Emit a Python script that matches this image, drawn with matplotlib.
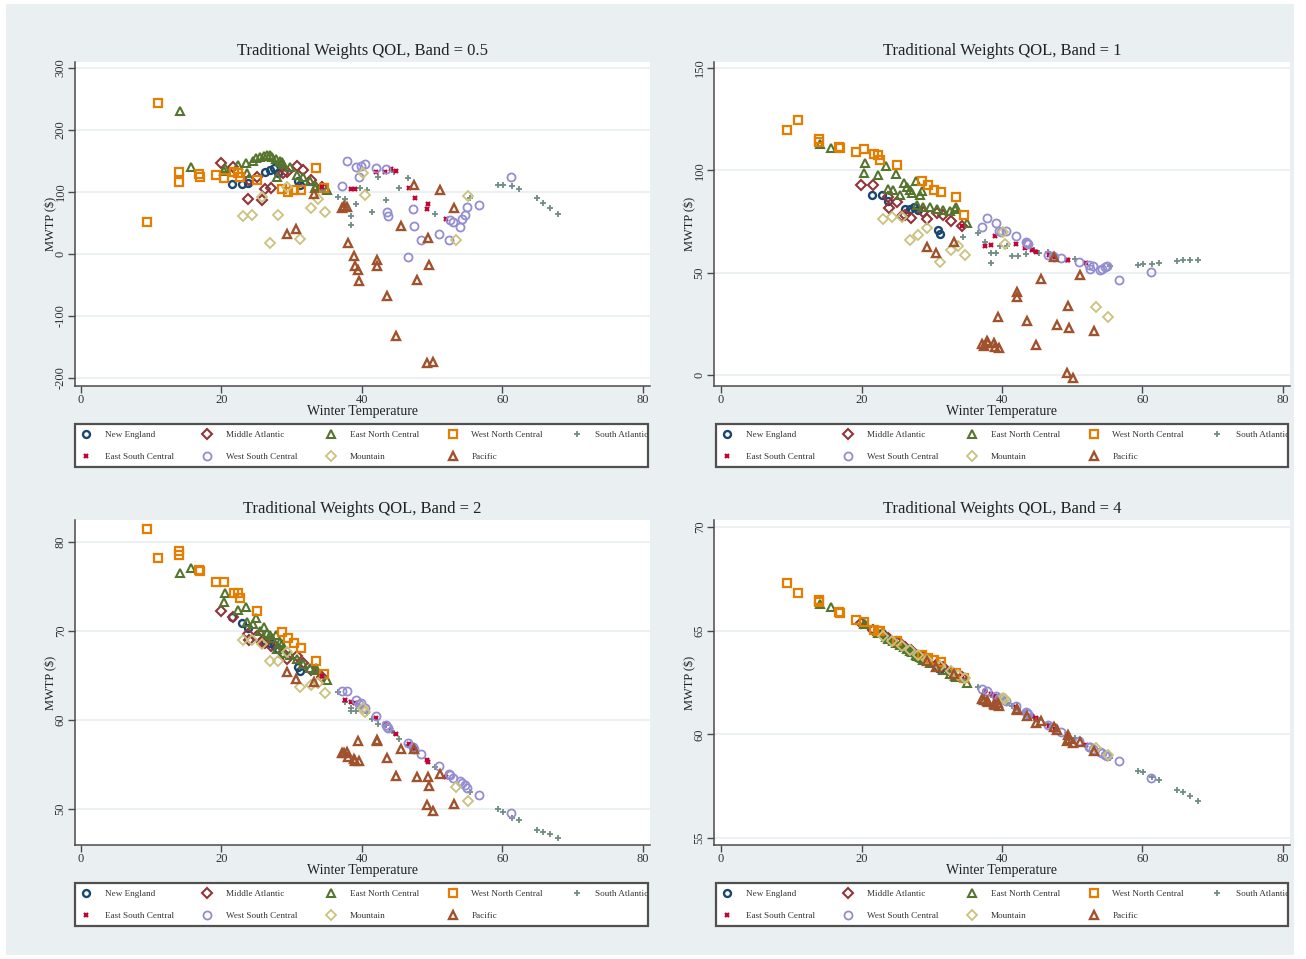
import matplotlib.pyplot as plt
from matplotlib.patches import Rectangle

plt.rcParams['font.family'] = ['Liberation Serif', 'DejaVu Serif']

# winter temperature of each city, grouped by census division,
# and MWTP ($) for each bandwidth (0.5, 1, 2, 4)
ne_temp = [21.5, 22.9, 23.8, 26.2, 26.9, 27.5, 28.0, 30.9, 31.2]
ne_b05 = [113, 113, 114, 133, 135, 138, 130, 118, 112]
ne_b1 = [87.8, 87.8, 85.0, 81.3, 81.3, 82.1, 80.5, 70.7, 68.8]
ne_b2 = [71.6, 70.9, 70.3, 68.9, 68.6, 68.4, 68.0, 66.0, 65.5]
ne_b4 = [65.1, 64.9, 64.65, 64.15, 64.0, 63.9, 63.8, 63.2, 63.15]

ma_temp = [19.9, 21.6, 23.8, 23.9, 25.0, 25.7, 26.2, 27.1, 28.8, 29.3, 30.7, 31.6, 32.8, 34.3]
ma_b05 = [147, 140, 88, 120, 124, 87, 105, 107, 130, 132, 142, 135, 120, 108]
ma_b1 = [92.7, 92.7, 87.0, 81.8, 84.5, 77.6, 78.0, 76.9, 79.7, 76.4, 78.9, 78.0, 75.3, 72.7]
ma_b2 = [72.2, 71.6, 69.7, 69.0, 69.4, 68.8, 68.6, 68.3, 67.5, 66.8, 67.2, 66.4, 65.6, 64.8]
ma_b4 = [65.35, 65.05, 64.65, 64.6, 64.45, 64.3, 64.2, 64.05, 63.75, 63.65, 63.4, 63.25, 63.0, 62.75]

enc_temp = [14.1, 15.6, 20.4, 20.5, 22.4, 23.5, 23.7, 24.5, 24.9, 25.5, 26.1, 26.5, 26.9,
            27.2, 27.7, 27.9, 28.3, 28.6, 28.8, 29.7, 30.7, 31.6, 32.6, 33.3, 33.5, 35.0]
enc_b05 = [231, 141, 134, 138, 144, 146, 130, 150, 155, 157, 158, 160, 159,
           156, 153, 124, 150, 148, 145, 140, 128, 124, 118, 106, 110, 104]
enc_b1 = [113, 111, 98.7, 103.6, 97.6, 102, 91, 90.6, 98.4, 88, 93.8, 92, 90.5,
          89, 94.6, 82.9, 88, 90, 82.1, 82.1, 81.3, 80.5, 80.1, 81.3, 82, 74.3]
enc_b2 = [76.5, 77.1, 73.3, 74.3, 72.4, 72.7, 71.0, 70.8, 71.5, 70.0, 70.5, 69.8, 69.5,
          69.2, 69.6, 68.0, 68.8, 68.5, 67.5, 67.3, 66.8, 66.3, 65.8, 65.6, 65.8, 64.5]
enc_b4 = [66.3, 66.15, 65.3, 65.3, 64.9, 64.7, 64.6, 64.5, 64.4, 64.3, 64.2, 64.1, 64.0,
          63.95, 63.85, 63.8, 63.75, 63.7, 63.6, 63.45, 63.3, 63.1, 62.9, 62.8, 62.75, 62.5]

wnc_temp = [9.4, 11.0, 13.9, 14.0, 16.8, 16.9, 19.2, 20.3, 21.8, 22.3, 22.6, 25.0,
            28.6, 29.5, 30.3, 31.3, 33.4, 34.6]
wnc_b05 = [51, 244, 133, 116, 129, 125, 127, 122, 133, 130, 125, 120,
           105, 100, 103, 104, 138, 106]
wnc_b1 = [119.8, 124.4, 115.5, 114, 111.5, 110.8, 109, 110.6, 107.8, 107.3, 105, 102.4,
          94.6, 92.7, 90.6, 89.4, 86.7, 78]
wnc_b2 = [81.5, 78.2, 79.0, 78.5, 76.9, 76.7, 75.5, 75.5, 74.3, 74.3, 73.7, 72.3,
          69.9, 69.2, 68.6, 68.1, 66.6, 65.2]
wnc_b4 = [67.3, 66.8, 66.5, 66.4, 65.9, 65.85, 65.5, 65.4, 65.05, 65.0, 64.97, 64.5,
          63.85, 63.7, 63.6, 63.5, 62.95, 62.7]

sa_temp = [34.5, 36.6, 37.6, 38.4, 38.5, 39.1, 39.7, 40.7, 41.4, 42.3, 43.4, 44.5,
           45.2, 46.5, 50.4, 55.4, 59.4, 60.1, 61.3, 62.4, 64.9, 65.7, 66.7, 67.9]
sa_b05 = [104, 92, 89, 47, 62, 81, 106, 103, 68, 125, 87, 132,
          106, 122, 64, 91, 111, 111, 109, 105, 90, 83, 74, 64]
sa_b1 = [67.5, 69.4, 65, 54.5, 59.4, 59.7, 63, 63, 58, 58, 59, 61,
         59.7, 60, 56.5, 53.2, 53.7, 54, 54.1, 54.5, 55.8, 56, 56.1, 56.1]
sa_b2 = [64.8, 63.2, 62.0, 61.0, 61.3, 61.0, 61.5, 60.8, 60.1, 59.6, 59.4, 58.5,
         57.9, 57.2, 54.7, 51.9, 50.0, 49.7, 49.0, 48.8, 47.7, 47.4, 47.2, 46.8]
sa_b4 = [62.6, 62.3, 62.1, 61.9, 61.9, 61.8, 61.7, 61.5, 61.35, 61.2, 61.0, 60.8,
         60.7, 60.5, 59.8, 58.85, 58.25, 58.2, 57.95, 57.8, 57.3, 57.2, 57.0, 56.8]

esc_temp = [34.3, 37.6, 38.5, 39.0, 42.0, 43.3, 44.2, 44.8, 46.7, 47.5, 49.2, 49.4, 52.0]
esc_b05 = [108, 77, 105, 105, 132, 132, 137, 134, 106, 90, 73, 81, 56]
esc_b1 = [73, 63, 63.4, 67.8, 64.2, 61.8, 61, 60.1, 58.5, 57.5, 56.1, 56, 54.5]
esc_b2 = [65.0, 62.3, 62.0, 61.9, 60.2, 59.6, 58.9, 58.4, 57.3, 56.8, 55.5, 55.3, 53.6]
esc_b4 = [62.8, 62.1, 61.95, 61.85, 61.3, 61.05, 60.9, 60.8, 60.4, 60.25, 60.0, 59.95, 59.5]

wsc_temp = [37.2, 37.9, 39.1, 39.6, 39.8, 40.5, 42.0, 43.4, 43.5, 43.7, 46.6, 47.2,
            47.4, 48.4, 50.9, 52.4, 52.5, 53.0, 53.9, 54.2, 54.7, 55.0, 56.6, 61.2]
wsc_b05 = [109, 150, 141, 124, 142, 145, 138, 137, 67, 61, -5, 73,
           45, 23, 33, 23, 55, 52, 44, 56, 63, 76, 79, 125]
wsc_b1 = [72.3, 76.9, 74.3, 70.4, 69.9, 70.4, 67.8, 65, 64.5, 64.2, 58.5, 58,
          57.5, 56.9, 55, 53.7, 52, 53, 51.2, 52, 52.8, 53, 46.3, 50.4]
wsc_b2 = [63.3, 63.3, 62.3, 61.8, 61.9, 61.4, 60.4, 59.4, 59.2, 59.1, 57.4, 57.0,
          56.8, 56.2, 54.8, 53.9, 53.8, 53.5, 53.1, 52.9, 52.7, 52.4, 51.6, 49.5]
wsc_b4 = [62.2, 62.1, 61.85, 61.75, 61.7, 61.6, 61.35, 61.1, 61.05, 61.0, 60.45, 60.35,
          60.3, 60.1, 59.7, 59.4, 59.4, 59.3, 59.15, 59.1, 59.0, 58.95, 58.7, 57.9]

mtn_temp = [23.1, 24.4, 25.8, 26.9, 28.1, 29.3, 31.2, 32.8, 33.7, 34.8, 40.1, 40.4, 53.4, 55.1]
mtn_b05 = [62, 63, 92, 18, 63, 108, 24, 75, 89, 67, 130, 95, 23, 94]
mtn_b1 = [76.4, 77.2, 77.2, 65.9, 68.6, 71.6, 55.0, 61, 63.1, 58.5, 70, 64, 33.0, 28.1]
mtn_b2 = [69.0, 69.0, 68.5, 66.6, 66.6, 67.6, 63.7, 63.9, 64.2, 63.0, 61.4, 60.9, 52.5, 50.9]
mtn_b4 = [64.75, 64.5, 64.25, 64.05, 63.85, 63.6, 63.3, 63.05, 62.85, 62.7, 61.75, 61.7, 59.35, 59.0]

pac_temp = [29.3, 30.6, 33.1, 37.1, 37.4, 37.9, 38.0, 38.9, 39.0, 39.5, 39.6, 42.1,
            42.2, 43.5, 44.8, 45.6, 47.4, 47.9, 49.4, 49.6, 49.2, 50.1, 51.1, 53.1]
pac_b05 = [32, 40, 97, 75, 77, 76, 17, -4, -19, -26, -44, -9,
           -19, -67, -133, 45, 111, -42, 26, -18, -175, -174, 104, 75]
pac_b1 = [62.3, 59.4, 65, 15.1, 14, 16.7, 15.5, 15.8, 13.8, 28.5, 13, 40.6,
          37.9, 26.5, 14.6, 46.8, 57.7, 24.4, 33.7, 23.1, 1.1, -1.3, 48.8, 21.5]
pac_b2 = [65.4, 64.6, 64.3, 56.3, 56.3, 56.4, 55.9, 55.6, 55.4, 57.6, 55.4, 57.8,
          57.6, 55.7, 53.7, 56.8, 56.7, 53.6, 53.6, 52.6, 50.4, 49.8, 53.9, 50.6]
pac_b4 = [63.55, 63.25, 62.9, 61.7, 61.65, 61.6, 61.55, 61.45, 61.4, 61.5, 61.35, 61.2,
          61.15, 60.9, 60.55, 60.65, 60.35, 60.2, 59.95, 59.75, 59.7, 59.6, 59.65, 59.2]

bands = ["0.5", "1", "2", "4"]
yticks = [[-200, -100, 0, 100, 200, 300], [0, 50, 100, 150], [50, 60, 70, 80], [55, 60, 65, 70]]
ylims = [(-212.9, 309.7), (-5.4, 152.9), (45.96, 82.47), (54.66, 70.34)]

# name, temperature, values per band, marker, color, size, edge width, hollow
divisions = [
    ("New England", ne_temp, [ne_b05, ne_b1, ne_b2, ne_b4], 'o', '#1a476f', 5.0, 1.7, True),
    ("Middle Atlantic", ma_temp, [ma_b05, ma_b1, ma_b2, ma_b4], 'D', '#90353b', 5.0, 1.5, True),
    ("East North Central", enc_temp, [enc_b05, enc_b1, enc_b2, enc_b4], '^', '#55752f', 6.0, 1.5, True),
    ("West North Central", wnc_temp, [wnc_b05, wnc_b1, wnc_b2, wnc_b4], 's', '#e37e00', 5.4, 1.6, True),
    ("South Atlantic", sa_temp, [sa_b05, sa_b1, sa_b2, sa_b4], '+', '#6e8e84', 5.0, 1.3, False),
    ("East South Central", esc_temp, [esc_b05, esc_b1, esc_b2, esc_b4], 'x', '#c10534', 3.5, 1.6, False),
    ("West South Central", wsc_temp, [wsc_b05, wsc_b1, wsc_b2, wsc_b4], 'o', '#938dd2', 5.8, 1.3, True),
    ("Mountain", mtn_temp, [mtn_b05, mtn_b1, mtn_b2, mtn_b4], 'D', '#cac27e', 5.4, 1.3, True),
    ("Pacific", pac_temp, [pac_b05, pac_b1, pac_b2, pac_b4], '^', '#a0522d', 6.2, 1.7, True),
]

W, H = 1306, 959
fig = plt.figure(figsize=(W / 100, H / 100), dpi=100, facecolor='white')
fig.patches.append(Rectangle((6 / W, 4 / H), 1288 / W, 951 / H, transform=fig.transFigure,
                             facecolor='#eaf0f2', edgecolor='none', zorder=-10))


def px_rect(left, top, right, bottom):
    return [left / W, 1 - bottom / H, (right - left) / W, (bottom - top) / H]


boxes = [(75, 62, 650, 386), (714, 62, 1290, 386), (75, 520, 650, 845), (714, 520, 1290, 845)]
leg_boxes = [(75, 424, 648, 467), (716, 424, 1288, 467), (75, 883, 648, 926), (716, 883, 1288, 926)]
axis_col = '#4a4a4a'

for i in range(4):
    ax = fig.add_axes(px_rect(*boxes[i]))
    ax.set_facecolor('white')
    for name, temp, vals, mk, col, ms, mew, hollow in divisions:
        ax.plot(temp, vals[i], ls='none', marker=mk, ms=ms, mew=mew, mec=col,
                mfc='none' if hollow else col, label=name)
    ax.set_xlim(-0.85 if i % 2 == 0 else -1.0, 81.0)
    ax.set_ylim(*ylims[i])
    ax.set_xticks([0, 20, 40, 60, 80])
    ax.set_yticks(yticks[i])
    ax.set_yticklabels([str(v) for v in yticks[i]], rotation=90, va='center')
    ax.grid(axis='y', color='#e7eef0', lw=1.2)
    ax.set_axisbelow(True)
    for s in ['top', 'right']:
        ax.spines[s].set_visible(False)
    for s in ['left', 'bottom']:
        ax.spines[s].set_color(axis_col)
        ax.spines[s].set_linewidth(1.1)
    ax.tick_params(direction='out', length=5, width=1, color=axis_col,
                   labelsize=9, labelcolor='#333333', pad=1)
    ax.set_title("Traditional Weights QOL, Band = " + bands[i], fontsize=12,
                 color='#222222', pad=5)
    ax.set_xlabel("Winter Temperature", fontsize=10, color='#222222', labelpad=-1)
    ax.set_ylabel("MWTP ($)", fontsize=9, color='#222222', labelpad=-2)

    # legend box below the plot, two rows of five keys
    lb = leg_boxes[i]
    frame = Rectangle((lb[0] / W, 1 - lb[3] / H), (lb[2] - lb[0]) / W, (lb[3] - lb[1]) / H,
                      transform=fig.transFigure, facecolor='white', edgecolor='#505050',
                      linewidth=1.6, zorder=-1)
    fig.patches.append(frame)
    handles, labels = ax.get_legend_handles_labels()
    order = [0, 5, 1, 6, 2, 7, 3, 8, 4]
    leg = ax.legend([handles[k] for k in order], [labels[k] for k in order],
                    ncol=5, loc='upper left',
                    bbox_to_anchor=(lb[0] / W, 1 - lb[1] / H),
                    bbox_transform=fig.transFigure, fontsize=6.6, frameon=False,
                    borderaxespad=0, borderpad=0.7, handlelength=1.0, handletextpad=1.55,
                    columnspacing=3.15, labelspacing=1.55)
    for t in leg.get_texts():
        t.set_color('#333333')
        t.set_clip_path(frame)

fig.savefig('out.png', dpi=100, facecolor=fig.get_facecolor())
